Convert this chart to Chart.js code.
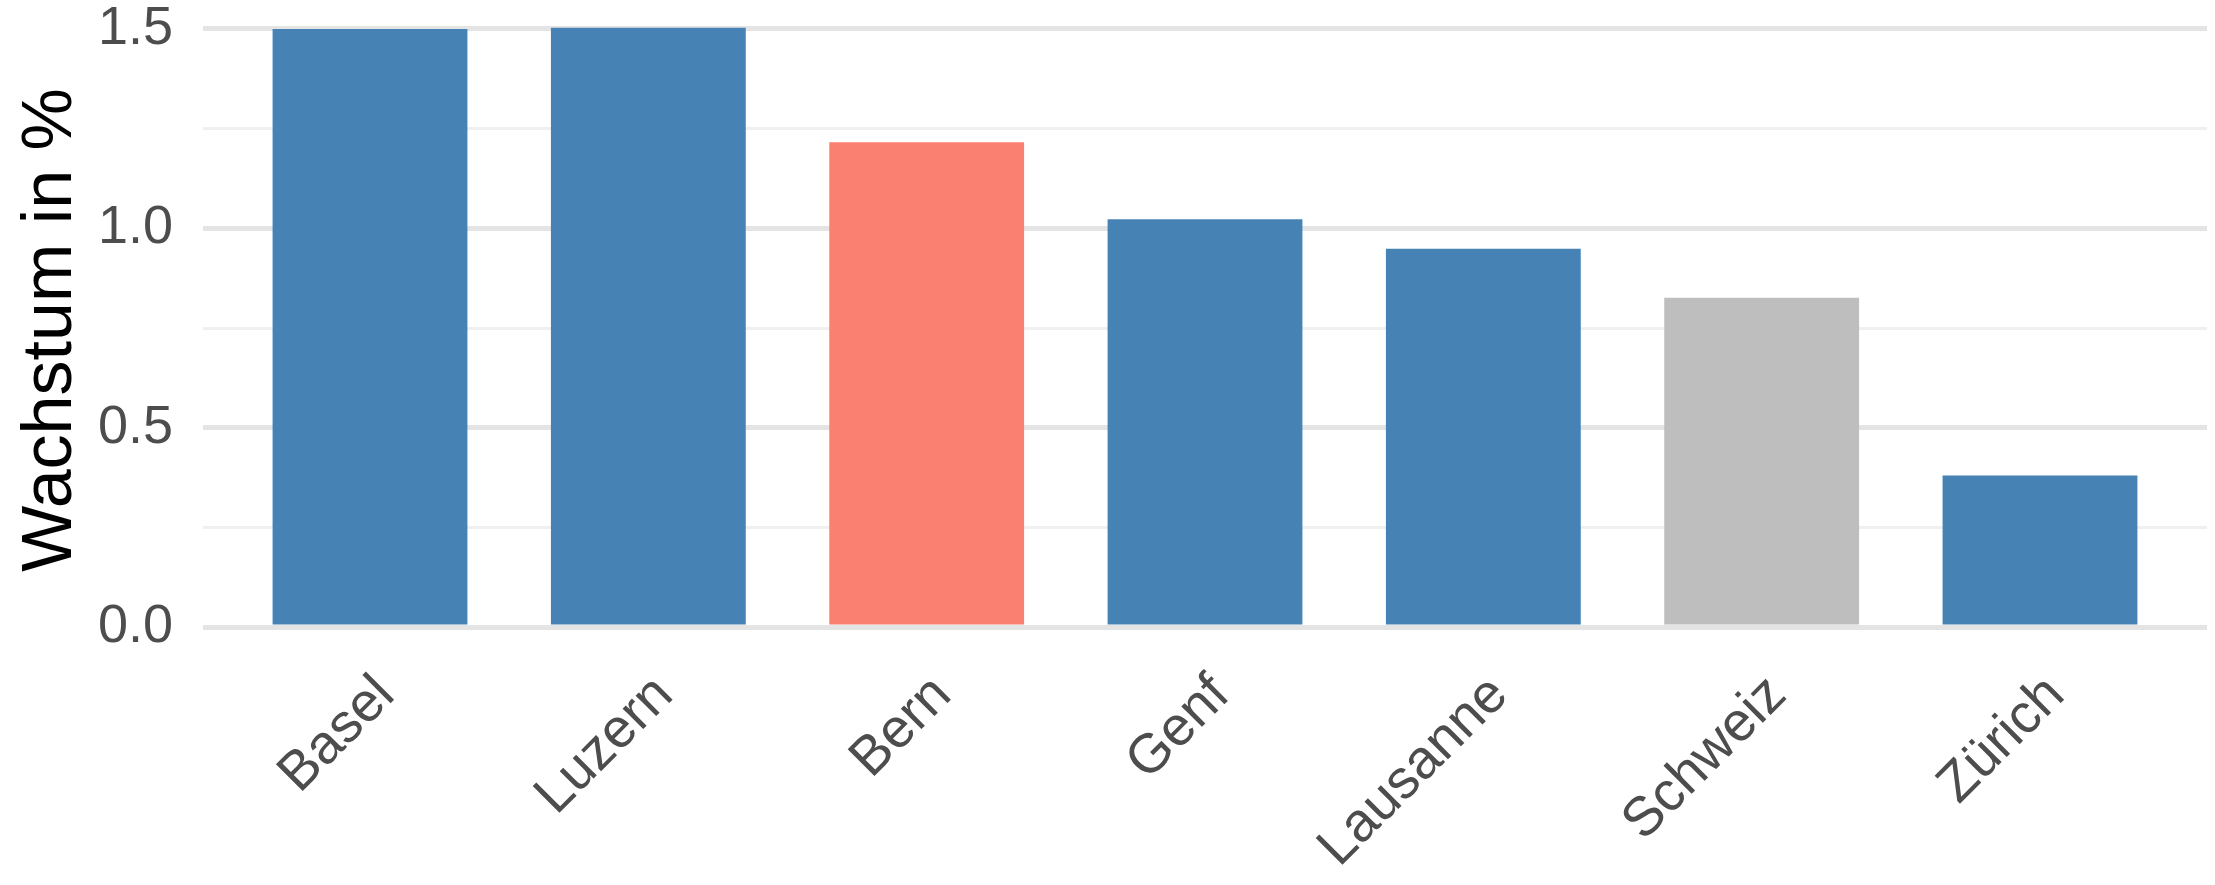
<!DOCTYPE html>
<html>
<head>
<meta charset="utf-8">
<script src="https://cdn.jsdelivr.net/npm/chart.js@4.4.1/dist/chart.umd.min.js"></script>
<style>
  html, body { margin:0; padding:0; background:#fff; }
  canvas { display:block; }
</style>
</head>
<body>
<canvas id="grafico" width="2215" height="885"></canvas>
<script>
// Daten
const staedte = ['Basel','Luzern','Bern','Genf','Lausanne','Schweiz','Zürich'];
const wachstum = [1.50, 1.503, 1.216, 1.023, 0.949, 0.826, 0.380];
const farben = ['#4682B4','#4682B4','#FA8072','#4682B4','#4682B4','#BEBEBE','#4682B4'];
const yTicks = [0, 0.25, 0.5, 0.75, 1.0, 1.25, 1.5];

const schrift = '"Liberation Sans", Arial, Helvetica, sans-serif';

new Chart(document.getElementById('grafico').getContext('2d'), {
  type: 'bar',
  data: {
    datasets: [{
      data: wachstum.map((v,i)=>({x:i, y:v})),
      backgroundColor: farben,
      borderWidth: 0,
      categoryPercentage: 1,
      barPercentage: 0.7
    }]
  },
  options: {
    responsive: false,
    animation: false,
    layout: { padding: { top: 1, right: 8, bottom: 0, left: 0 } },
    plugins: { legend: { display:false }, tooltip: { enabled:false } },
    scales: {
      x: {
        type: 'linear',
        offset: false,
        min: -0.6,
        max: 6.6,
        grid: { display:false },
        border: { display:false },
        afterBuildTicks: s => { s.ticks = staedte.map((_,i)=>({value:i})); },
        afterFit: s => { s.height = 226; s.paddingLeft = 0; s.paddingRight = 0; },
        ticks: {
          autoSkip: false,
          minRotation: 45,
          maxRotation: 45,
          padding: -4,
          labelOffset: 16,
          color: '#4D4D4D',
          font: { family: schrift, size: 55 },
          callback: v => staedte[v]
        }
      },
      y: {
        min: -0.08,
        max: 1.57,
        border: { display:false },
        grid: {
          drawTicks: false,
          color: c => (c.tick && c.tick.value % 0.5 === 0) ? '#E4E4E4' : '#F0F0F0',
          lineWidth: c => (c.tick && c.tick.value % 0.5 === 0) ? 5 : 3
        },
        afterBuildTicks: s => { s.ticks = yTicks.map(v=>({value:v})); },
        afterFit: s => { s.width = 203; s.paddingTop = 0; s.paddingBottom = 0; },
        ticks: {
          padding: 30,
          color: '#4D4D4D',
          font: { family: schrift, size: 54 },
          callback: v => (v % 0.5 === 0) ? v.toFixed(1) : ''
        },
        title: {
          display: true,
          text: 'Wachstum in %',
          color: '#000',
          padding: { top: 10, bottom: 0 },
          font: { family: schrift, size: 70 }
        }
      }
    }
  }
});
</script>
</body>
</html>
